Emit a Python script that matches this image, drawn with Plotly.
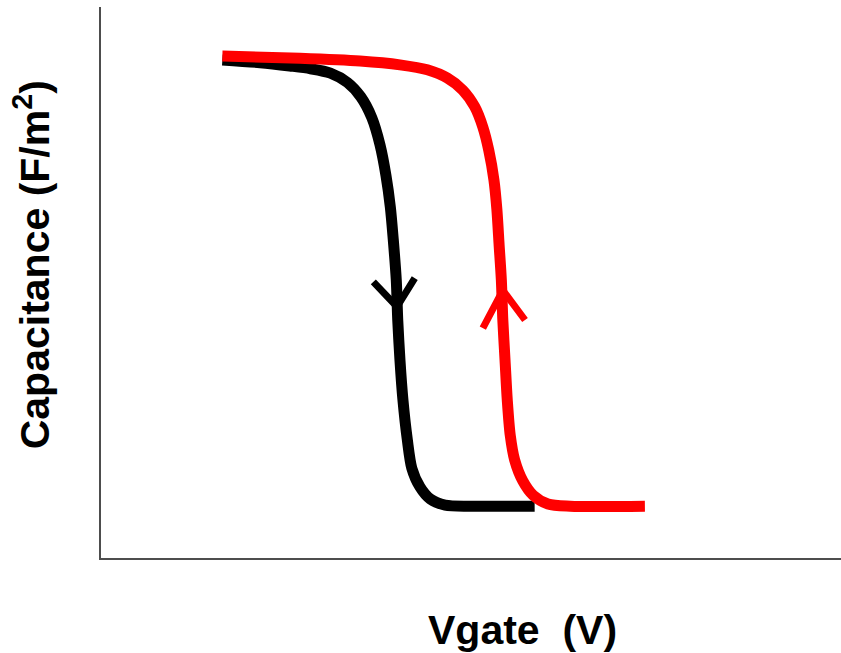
import plotly.graph_objects as go

# Forward sweep (black) — Vgate vs capacitance, arbitrary units
black_v = [1.64, 2.15, 2.55, 2.83, 3.10, 3.33, 3.51, 3.66, 3.77, 3.85, 3.91, 3.95, 3.99, 4.01, 4.04, 4.08, 4.14, 4.20, 4.31, 4.45, 4.65, 4.99, 5.86]
black_c = [9.04, 8.99, 8.93, 8.88, 8.80, 8.63, 8.37, 7.99, 7.50, 6.95, 6.37, 5.77, 5.05, 4.32, 3.59, 2.87, 2.14, 1.63, 1.29, 1.07, 0.96, 0.94, 0.94]

# Reverse sweep (red)
red_v = [1.64, 2.69, 3.50, 4.04, 4.41, 4.68, 4.89, 5.05, 5.16, 5.24, 5.31, 5.35, 5.38, 5.41, 5.43, 5.46, 5.49, 5.53, 5.59, 5.70, 5.84, 6.04, 6.34, 7.35]
red_c = [9.11, 9.07, 9.02, 8.95, 8.86, 8.71, 8.49, 8.19, 7.82, 7.40, 6.86, 6.32, 5.68, 5.05, 4.32, 3.59, 2.87, 2.23, 1.78, 1.40, 1.14, 0.98, 0.94, 0.94]

# Direction arrowheads (arm - tip - arm)
black_arrow_v = [3.68, 4.00, 4.24]
black_arrow_c = [5.01, 4.56, 5.08]
red_arrow_v = [5.16, 5.43, 5.73]
red_arrow_c = [4.17, 4.86, 4.32]

x_title = "Vgate  (V)"
y_title = "Capacitance (F/m<sup>2</sup>)"

fig = go.Figure()
fig.add_trace(go.Scatter(x=black_v, y=black_c, mode="lines",
                         line=dict(color="black", width=11, shape="spline", smoothing=0.8)))
fig.add_trace(go.Scatter(x=black_arrow_v, y=black_arrow_c, mode="lines",
                         line=dict(color="black", width=7)))
fig.add_trace(go.Scatter(x=red_v, y=red_c, mode="lines",
                         line=dict(color="#ff0000", width=11, shape="spline", smoothing=0.8)))
fig.add_trace(go.Scatter(x=red_arrow_v, y=red_arrow_c, mode="lines",
                         line=dict(color="#ff0000", width=7)))

font = dict(family="Liberation Sans, Arial, sans-serif", size=41, color="black")
fig.update_layout(
    width=841, height=653,
    margin=dict(l=101, r=0, t=7, b=95),
    paper_bgcolor="white", plot_bgcolor="white",
    showlegend=False,
    xaxis=dict(range=[0, 10], showgrid=False, zeroline=False, showticklabels=False,
               ticks="", showline=True, linecolor="#4d4d4d", linewidth=2, fixedrange=True),
    yaxis=dict(range=[0, 10], showgrid=False, zeroline=False, showticklabels=False,
               ticks="", showline=True, linecolor="#4d4d4d", linewidth=2, fixedrange=True),
    annotations=[
        dict(text="<b>" + x_title + "</b>", xref="paper", yref="paper", x=0.569, y=-0.131,
             xanchor="center", yanchor="middle", showarrow=False, font=font),
        dict(text="<b>" + y_title + "</b>", xref="paper", yref="paper", x=-0.094, y=0.532,
             xanchor="center", yanchor="middle", showarrow=False, textangle=-90, font=font),
    ],
)
fig.write_html("out.html", config={"displayModeBar": False},
               post_script="document.body.style.margin='0';document.body.style.overflow='hidden';")
